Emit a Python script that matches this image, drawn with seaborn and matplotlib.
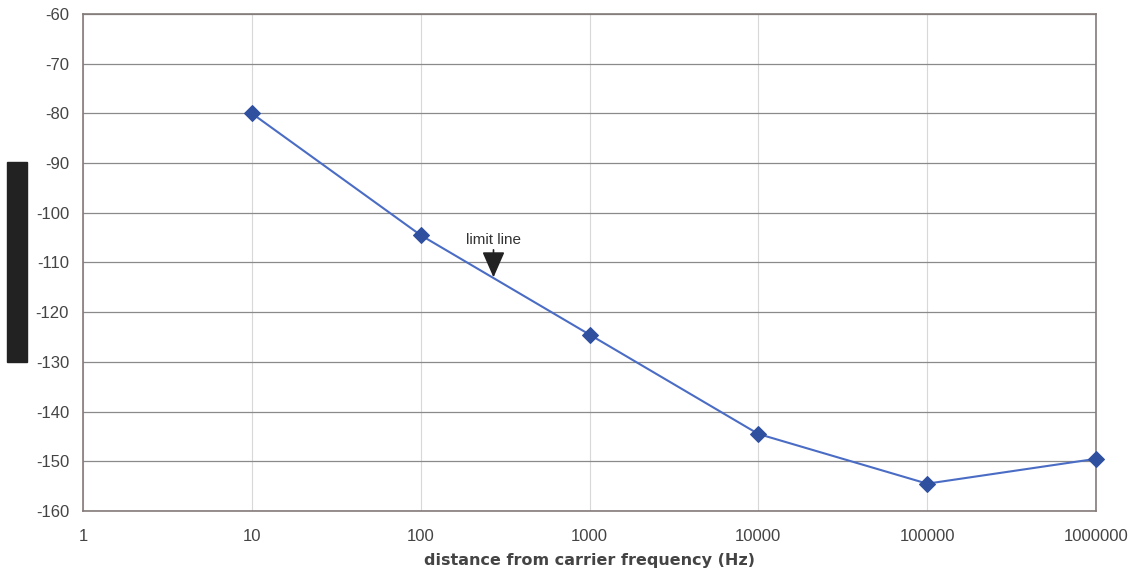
import matplotlib
matplotlib.use("Agg")
import matplotlib.pyplot as plt
import seaborn as sns
import pandas as pd
from matplotlib.patches import Rectangle

# Data
freq_offsets = [10, 100, 1000, 10000, 100000, 1000000]
phase_noise = [-80, -104.5, -124.5, -144.5, -154.5, -149.5]
x_ticks = [1, 10, 100, 1000, 10000, 100000, 1000000]
y_ticks = [-60, -70, -80, -90, -100, -110, -120, -130, -140, -150, -160]
annot_label = "limit line"
annot_x = 270
annot_y = -113
x_label = "distance from carrier frequency (Hz)"

sns.set_style("white")
plt.rcParams['font.family'] = ['Liberation Sans', 'DejaVu Sans']

df = pd.DataFrame({"freq": freq_offsets, "val": phase_noise})

fig = plt.figure(figsize=(11.39, 5.71), dpi=100)
ax = fig.add_axes([83/1139, 1-511/571, (1096-83)/1139, (511-14)/571])

sns.lineplot(data=df, x="freq", y="val", ax=ax, color="#4a6cc4", linewidth=1.5,
             marker="D", markersize=8, markerfacecolor="#2f4f9f",
             markeredgecolor="#2f4f9f", zorder=3, clip_on=False)

ax.set_xscale("log")
ax.set_xlim(1, 1000000)
ax.set_ylim(-160, -60)
ax.set_xticks(x_ticks)
ax.set_xticklabels([str(v) for v in x_ticks], fontsize=12, color="#444444")
ax.set_yticks(y_ticks)
ax.set_yticklabels([str(v) for v in y_ticks], fontsize=12, color="#444444")
ax.minorticks_off()
ax.tick_params(axis="both", length=4, width=0.8, color="#777777", direction="out")
ax.tick_params(axis="y", pad=6)
ax.tick_params(axis="x", pad=9)

ax.grid(True, axis="y", color="#8a8a8a", linewidth=0.9)
ax.grid(True, axis="x", color="#d8d8d8", linewidth=0.8)
for s in ax.spines.values():
    s.set_color("#857a7a")
    s.set_linewidth(1.2)

ax.set_xlabel(x_label, fontsize=11.5, fontweight="bold", color="#444444",
              family=["DejaVu Sans"])
ax.xaxis.set_label_coords(0.5, -0.085)
ax.set_ylabel("")

ax.annotate(annot_label, xy=(annot_x, annot_y), xytext=(annot_x, annot_y + 6.2),
            ha="center", va="bottom", fontsize=11, color="#333333",
            arrowprops=dict(arrowstyle="-|>,head_width=0.35,head_length=0.8",
                            mutation_scale=20, color="#222222", lw=1.2,
                            shrinkA=0, shrinkB=0))

# redacted y-axis label block
fig.patches.append(Rectangle((7/1139, 1-362/571), 20/1139, 200/571,
                             transform=fig.transFigure, color="#222222"))

fig.savefig("out.png", dpi=100)
